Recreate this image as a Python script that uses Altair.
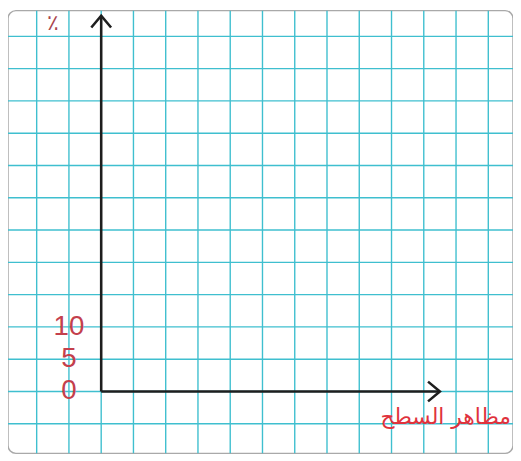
import altair as alt
import pandas as pd

# grid units: x in cells, y in percent (5 % per cell)
x_grid = list(range(-2, 13))
y_grid = list(range(-5, 60, 5))
tick_values = [0, 5, 10]
tick_labels = ["0", "5", "10"]
x_axis_end = 10.5
y_axis_end = 58.2
y_title = "٪"
x_title = "مظاهر السطح"

W, H = 511, 448
x_dom = [-2.889, 12.766]
y_dom = [-9.58, 58.98]

xs = alt.Scale(domain=x_dom, nice=False, zero=False)
ys = alt.Scale(domain=y_dom, nice=False, zero=False)
noax = None

grid_color = "#3fbfcf"

vgrid = alt.Chart(pd.DataFrame({"x": x_grid})).mark_rule(color=grid_color, strokeWidth=1.4).encode(
    x=alt.X("x:Q", scale=xs, axis=noax)
)
hgrid = alt.Chart(pd.DataFrame({"y": y_grid})).mark_rule(color=grid_color, strokeWidth=1.4).encode(
    y=alt.Y("y:Q", scale=ys, axis=noax)
)

axes_df = pd.DataFrame({"x": [0, 0], "y": [0, 0], "x2": [x_axis_end, 0], "y2": [0, y_axis_end]})
axes = alt.Chart(axes_df).mark_rule(color="#1e1e1e", strokeWidth=2.6).encode(
    x=alt.X("x:Q", scale=xs, axis=noax), y=alt.Y("y:Q", scale=ys, axis=noax), x2="x2:Q", y2="y2:Q"
)

arrow_up = alt.Chart(pd.DataFrame({"x": [0], "y": [y_axis_end]})).mark_point(
    shape="M-1,1.2L0,0L1,1.2", size=400, filled=False, stroke="#1e1e1e",
    strokeWidth=2.6, opacity=1
).encode(x=alt.X("x:Q", scale=xs, axis=noax), y=alt.Y("y:Q", scale=ys, axis=noax))

arrow_right = alt.Chart(pd.DataFrame({"x": [x_axis_end], "y": [0]})).mark_point(
    shape="M-1.2,-1L0,0L-1.2,1", size=400, filled=False, stroke="#1e1e1e",
    strokeWidth=2.6, opacity=1
).encode(x=alt.X("x:Q", scale=xs, axis=noax), y=alt.Y("y:Q", scale=ys, axis=noax))

labels_df = pd.DataFrame({"x": [-1] * 3, "y": tick_values, "t": tick_labels})
labels = alt.Chart(labels_df).mark_text(
    font="Liberation Sans", fontSize=28, color="#c4404c", align="center", baseline="middle"
).encode(x=alt.X("x:Q", scale=xs, axis=noax), y=alt.Y("y:Q", scale=ys, axis=noax), text="t:N")

ytitle = alt.Chart(pd.DataFrame({"x": [-1.5], "y": [57.0], "t": [y_title]})).mark_text(
    font="DejaVu Sans", fontSize=22, color="#a8454e", align="center", baseline="middle"
).encode(x=alt.X("x:Q", scale=xs, axis=noax), y=alt.Y("y:Q", scale=ys, axis=noax), text="t:N")

xtitle = alt.Chart(pd.DataFrame({"x": [12.7], "y": [-4.0], "t": [x_title]})).mark_text(
    font="DejaVu Sans", fontSize=22, color="#e0323c", align="right", baseline="middle"
).encode(x=alt.X("x:Q", scale=xs, axis=noax), y=alt.Y("y:Q", scale=ys, axis=noax), text="t:N")

chart = alt.layer(vgrid, hgrid, axes, arrow_up, arrow_right, labels, ytitle, xtitle).properties(
    width=W, height=H, padding=0, autosize=alt.AutoSizeParams(type="none")
).configure_view(stroke="#a9a9a9", strokeWidth=1.5, cornerRadius=8)

chart.save("out.html", embed_options={"renderer": "svg", "actions": False})
